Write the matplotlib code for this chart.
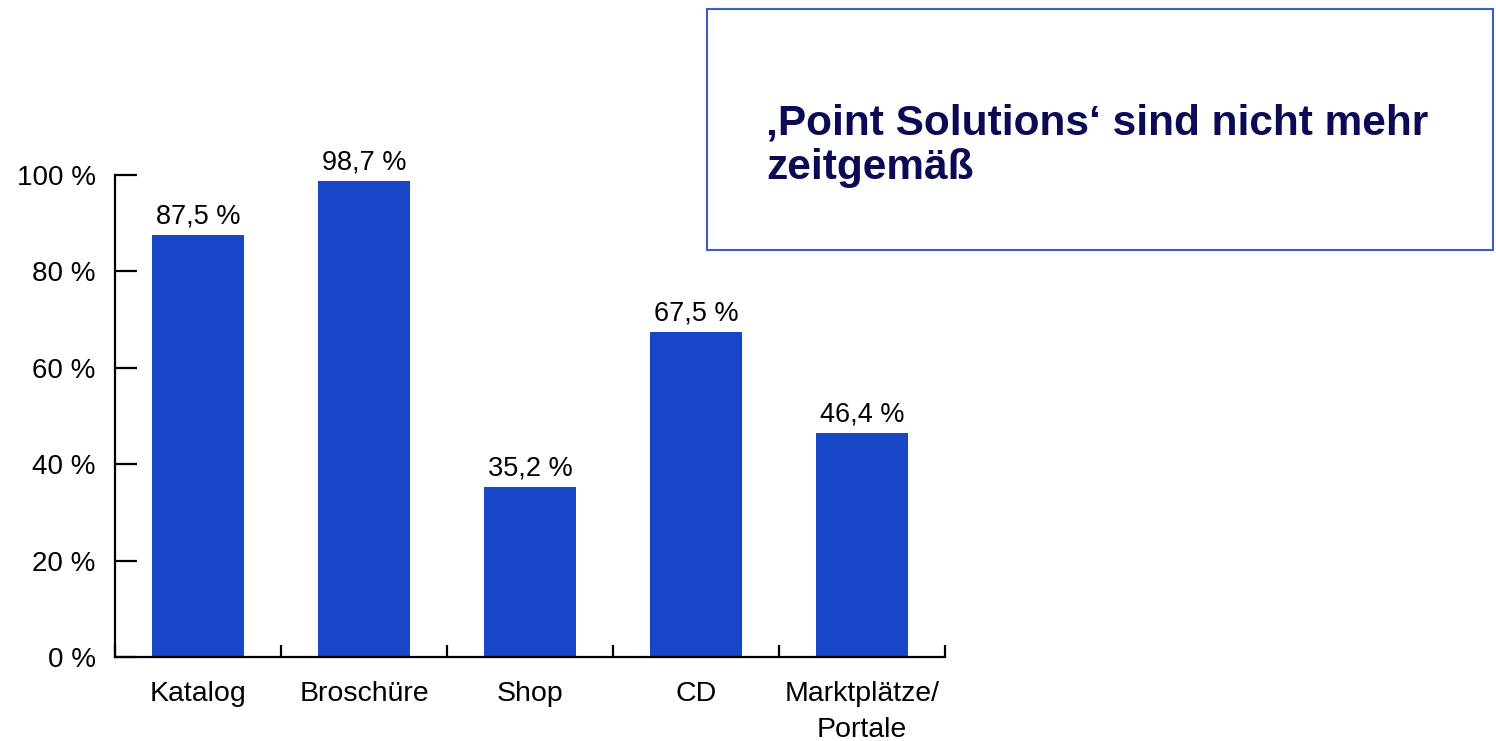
import numpy as np
import matplotlib.pyplot as plt
from matplotlib.patches import Rectangle

plt.rcParams['font.family'] = ['Liberation Sans', 'DejaVu Sans']

# data
kategorien = ['Katalog', 'Broschüre', 'Shop', 'CD', 'Marktplätze/\nPortale']
anteile = [87.5, 98.7, 35.2, 67.5, 46.4]
y_ticks = [0, 20, 40, 60, 80, 100]
titel = '‚Point Solutions‘ sind nicht mehr\nzeitgemäß'

bar_color = '#1747c6'

fig = plt.figure(figsize=(14.96, 7.41), dpi=100)
W, H = 1496, 741
ax = fig.add_axes([115 / W, (741 - 657) / H, 830 / W, 482 / H])

x = np.arange(len(kategorien))
ax.bar(x, anteile, width=0.56, color=bar_color, zorder=2)

# labels above bars
for xi, v in zip(x, anteile):
    ax.annotate(f'{v:.1f} %'.replace('.', ','), (xi, v), xytext=(0, 4),
                textcoords='offset points', ha='center', va='bottom',
                fontsize=19.5, clip_on=False)

ax.set_xlim(-0.5, len(kategorien) - 0.5)
ax.set_ylim(0, 100)

ax.spines['top'].set_visible(False)
ax.spines['right'].set_visible(False)
ax.spines['left'].set_linewidth(1.6)
ax.spines['bottom'].set_linewidth(1.6)

ax.set_yticks(y_ticks)
ax.set_yticklabels([f'{t} %' for t in y_ticks], fontsize=20)
ax.tick_params(axis='y', direction='in', length=16, width=1.6, pad=14)

ax.set_xticks(x)
ax.set_xticklabels(kategorien, fontsize=20.5, linespacing=1.5)
ax.tick_params(axis='x', which='major', length=0, pad=17)
ax.set_xticks(np.arange(len(kategorien) + 1) - 0.5, minor=True)
ax.tick_params(axis='x', which='minor', direction='in', length=9, width=1.6)

# text box top right
fig.patches.append(Rectangle((707 / W, (741 - 250) / H), 786 / W, 241 / H,
                             transform=fig.transFigure, fill=False,
                             edgecolor='#3a5fcd', linewidth=1.5))
fig.text(766 / W, (741 - 146) / H, titel, fontsize=30.5, fontweight='bold',
         color='#0b0b55', ha='left', va='center', linespacing=1.15)

fig.savefig('out.png', dpi=100)
